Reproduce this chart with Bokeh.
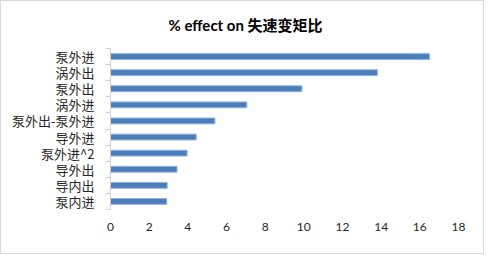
from bokeh.plotting import figure
from bokeh.models import Range1d, LinearAxis, FixedTicker, Title
from bokeh.embed import file_html
from bokeh.resources import INLINE

categories = ["泵外进", "涡外出", "泵外出", "涡外进", "泵外出-泵外进",
              "导外进", "泵外进^2", "导外出", "导内出", "泵内进"]
values = [16.5, 13.8, 9.9, 7.05, 5.4, 4.43, 3.96, 3.44, 2.93, 2.91]
x_ticks = [0, 2, 4, 6, 8, 10, 12, 14, 16, 18]
title_text = "% effect on 失速变矩比"

n = len(categories)
ypos = [n - i - 0.5 for i in range(n)]

LATIN = "Lato, 'Noto Sans CJK SC', sans-serif"
CJK = "'Noto Sans CJK SC', Lato, sans-serif"

p = figure(width=484, height=254, x_range=Range1d(0, 18), y_range=Range1d(0, n),
           output_backend="svg", toolbar_location=None, y_axis_location=None,
           min_border_left=109, min_border_right=27, min_border_top=47, min_border_bottom=46)
p.styles = {"border": "1px solid #d9d9d9", "box-sizing": "border-box"}

p.title = Title(text=title_text, align="left", offset=58, text_font_size="15px",
                text_font=LATIN, text_font_style="bold", text_color="#000000",
                vertical_align="top", standoff=25)

p.outline_line_color = None
p.xgrid.visible = False
p.ygrid.visible = False
p.background_fill_color = "white"
p.border_fill_color = "white"

xa = p.xaxis[0]
xa.ticker = FixedTicker(ticks=x_ticks)
xa.axis_line_color = None
xa.major_tick_line_color = None
xa.minor_tick_line_color = None
xa.major_label_text_font = LATIN
xa.major_label_text_font_size = "12px"
xa.major_label_text_color = "#262626"
xa.major_label_standoff = 7

tick_axis = LinearAxis(ticker=FixedTicker(ticks=list(range(n + 1))),
                       major_label_overrides={i: "" for i in range(n + 1)},
                       major_label_standoff=0, major_label_text_font_size="1px",
                       axis_line_color="#d0d0d0", major_tick_line_color="#d0d0d0",
                       major_tick_in=0, major_tick_out=5, minor_tick_line_color=None)
p.add_layout(tick_axis, "left")

label_axis = LinearAxis(ticker=FixedTicker(ticks=ypos),
                        major_label_overrides={y: c for y, c in zip(ypos, categories)},
                        axis_line_color=None, major_tick_line_color=None,
                        minor_tick_line_color=None, major_label_standoff=5,
                        major_label_text_font=CJK, major_label_text_font_size="13px",
                        major_label_text_color="#262626")
p.add_layout(label_axis, "left")

p.hbar(y=ypos, left=0, right=values, height=0.36,
       fill_color="#4A7EBB", line_color="#8DB0DA", line_width=1)

open("out.html", "w").write(file_html(p, INLINE))
